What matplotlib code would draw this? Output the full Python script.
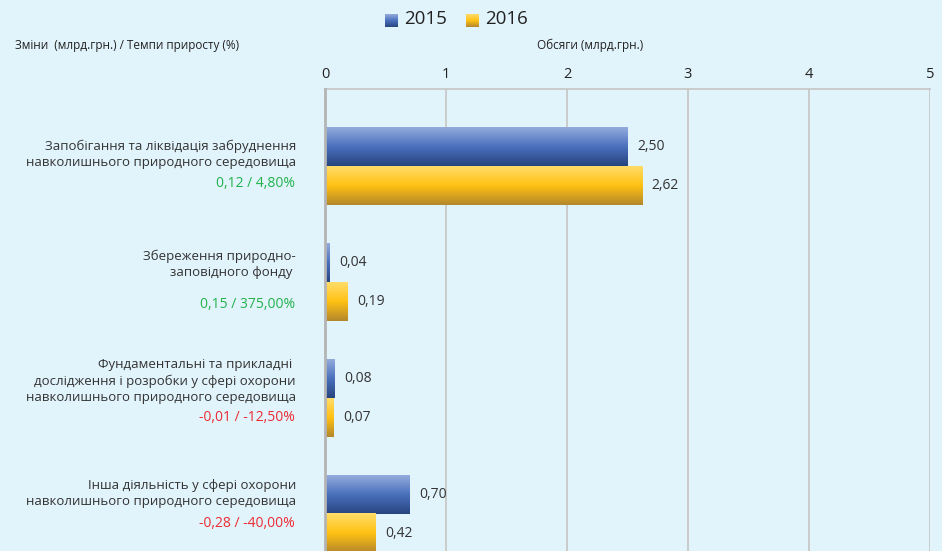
import numpy as np
import matplotlib.pyplot as plt
from matplotlib.colors import LinearSegmentedColormap
from matplotlib.transforms import blended_transform_factory

plt.rcParams['font.family'] = ['Open Sans', 'DejaVu Sans']

categories = ["Запобігання та ліквідація забруднення\nнавколишнього природного середовища",
              "Збереження природно-\nзаповідного фонду ",
              "Фундаментальні та прикладні \nдослідження і розробки у сфері охорони\nнавколишнього природного середовища",
              "Інша діяльність у сфері охорони\nнавколишнього природного середовища"]
v2015 = [2.50, 0.04, 0.08, 0.70]
v2016 = [2.62, 0.19, 0.07, 0.42]
changes = ["0,12 / 4,80%", "0,15 / 375,00%", "-0,01 / -12,50%", "-0,28 / -40,00%"]
change_sign = [1, 1, -1, -1]

# layout offsets for left texts (data units relative to category centre)
label_off = [-0.103, -0.151, -0.147, -0.181]
change_off = [0.155, 0.19, 0.172, 0.078]

bg = '#e1f3fb'
fig = plt.figure(figsize=(9.42, 5.51), dpi=100, facecolor=bg)
ax = fig.add_axes([325/942, 0, 605/942, 1 - 89/551])
ax.set_facecolor(bg)

blue_cm = LinearSegmentedColormap.from_list('b', ['#93abdc', '#4a70bd', '#27457f'])
gold_cm = LinearSegmentedColormap.from_list('g', ['#ffdc68', '#ffc113', '#b4882c'])
grad = np.linspace(0, 1, 64).reshape(-1, 1)

h = 0.336
y = np.arange(len(categories))
for i in y:
    for val, yc, cm in [(v2015[i], i - h/2, blue_cm), (v2016[i], i + h/2, gold_cm)]:
        ax.imshow(grad, cmap=cm, aspect='auto', extent=[0, val, yc + h/2, yc - h/2],
                  zorder=3, interpolation='bilinear')
        ax.text(val + 0.08, yc, f"{val:.2f}".replace('.', ','), va='center', ha='left',
                fontsize=10, color='#333333', zorder=4)

ax.set_xlim(0, 5)
ax.set_ylim(3.319, -0.664)
ax.set_xticks(range(6))
ax.xaxis.tick_top()
ax.tick_params(axis='x', length=0, labelsize=10.5, colors='#222222', pad=5)
ax.set_yticks([])
ax.grid(axis='x', color='#c8c8c8', lw=1.3, zorder=0)
for s in ['right', 'bottom']:
    ax.spines[s].set_visible(False)
ax.spines['top'].set_color('#c8c8c8')
ax.spines['top'].set_linewidth(1.3)
ax.spines['left'].set_color('#b4b4b4')
ax.spines['left'].set_linewidth(2)
ax.spines['left'].set_zorder(5)

tr = blended_transform_factory(ax.transAxes, ax.transData)
for i in y:
    ax.text(-0.048, i + label_off[i], categories[i], transform=tr, ha='right', va='center',
            fontsize=9.5, color='#333333', linespacing=1.3)
    ax.text(-0.05, i + change_off[i], changes[i], transform=tr, ha='right', va='center',
            fontsize=10, color='#22b24c' if change_sign[i] > 0 else '#ee2b33')

fig.text(15/942, 1 - 45/551, "Зміни  (млрд.грн.) / Темпи приросту (%)", fontsize=8.5,
         color='#222222', va='center', ha='left')
fig.text(590/942, 1 - 45/551, "Обсяги (млрд.грн.)", fontsize=8.5, color='#222222',
         va='center', ha='center')

# legend
lx = fig.add_axes([385/942, 1 - 27/551, 13/942, 13/551])
lx.imshow(grad, cmap=blue_cm, aspect='auto', extent=[0, 1, 0, 1])
lx.axis('off')
fig.text(404/942, 1 - 19/551, "2015", fontsize=13.5, color='#222222', va='center')
ly = fig.add_axes([466/942, 1 - 27/551, 13/942, 13/551])
ly.imshow(grad, cmap=gold_cm, aspect='auto', extent=[0, 1, 0, 1])
ly.axis('off')
fig.text(485/942, 1 - 19/551, "2016", fontsize=13.5, color='#222222', va='center')

fig.savefig('out.png', dpi=100, facecolor=bg)
